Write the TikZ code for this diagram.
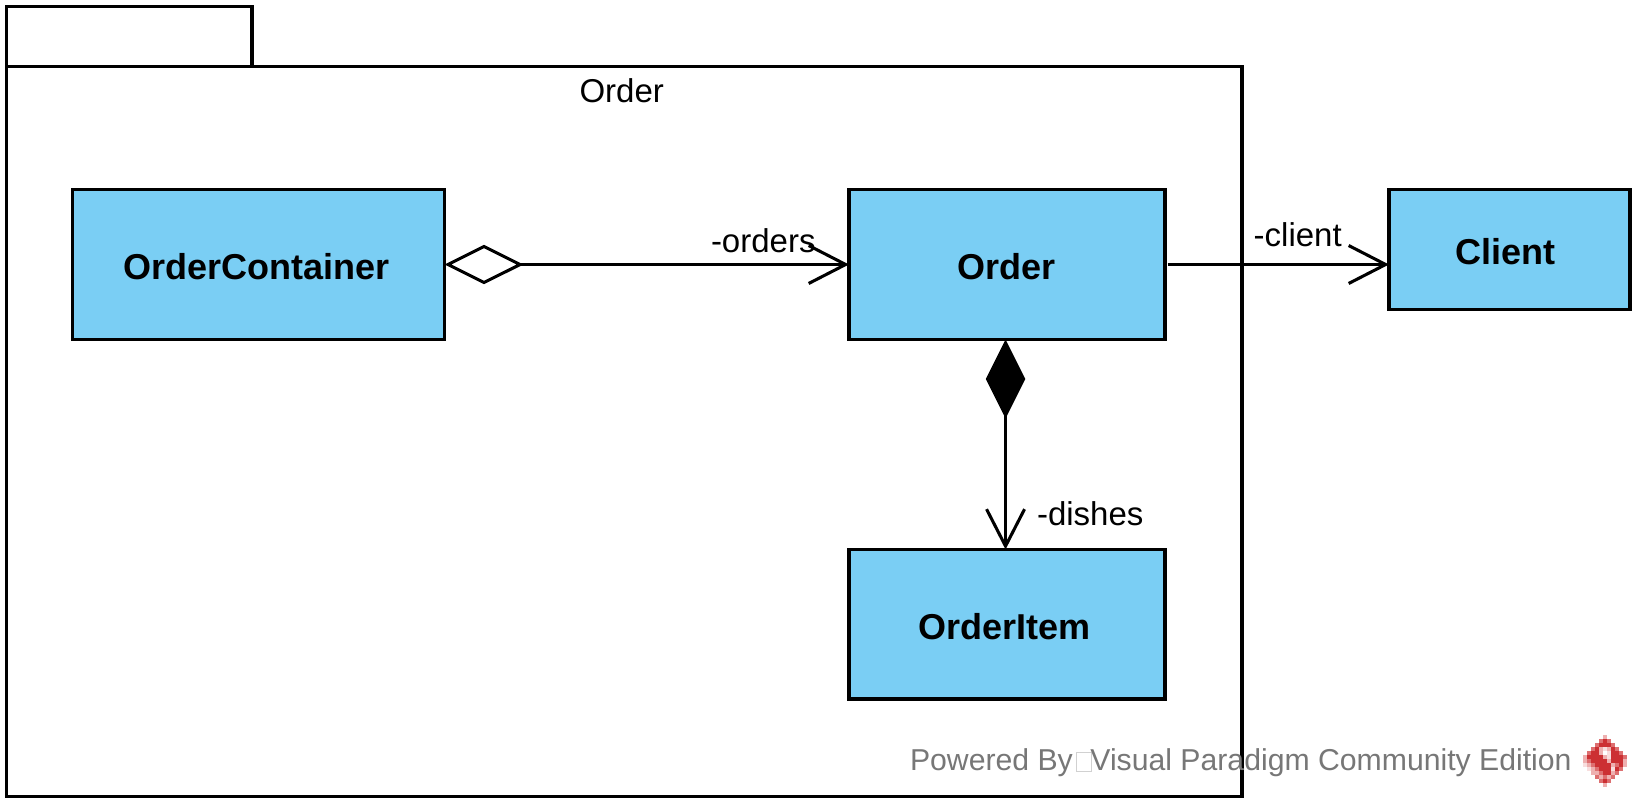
\documentclass[tikz,border=0pt]{standalone}
\usepackage{fontspec}
\setmainfont{Liberation Sans}
\usetikzlibrary{arrows.meta}
\definecolor{classblue}{HTML}{7ACEF4}
\definecolor{markgray}{HTML}{777777}
\definecolor{lr}{HTML}{CC3033}
\definecolor{lm}{HTML}{DD6F70}
\definecolor{lp}{HTML}{EEB0B0}
\definecolor{ll}{HTML}{F8DEDE}
\newcommand{\tofubox}{{\setlength{\fboxsep}{0pt}\setlength{\fboxrule}{.6pt}\hspace{2.5pt}\textcolor{black!18}{\fbox{\rule{0pt}{13.5pt}\hspace{10.5pt}}}\hspace{-1pt}}}
\tikzset{
  x=.75pt,y=-.75pt,
  outline/.style={draw=black,line width=2.3pt,outer sep=0pt,inner sep=0pt,anchor=north west},
  classbox/.style={outline,fill=classblue,align=center,text height=22.5pt,text depth=0pt,
    font=\fontsize{27}{30}\selectfont\bfseries},
  pkgbox/.style={outline,fill=white},
  conn/.style={line width=2.3pt,draw=black},
  lbl/.style={anchor=base west,inner sep=0pt,outer sep=0pt,font=\fontsize{24.75}{30}\selectfont},
  wmark/.style={anchor=base west,inner sep=0pt,outer sep=0pt,text=markgray,font=\fontsize{22.65}{26}\selectfont},
  barbhead/.tip={Straight Barb[length=27.75pt,width=28.5pt,line width=2.3pt]},
}
\begin{document}
\begin{tikzpicture}
\useasboundingbox (0,0) rectangle (1641,810);
\fill[white] (0,0) rectangle (1641,810);
% package
\node[pkgbox,minimum width=245.5*.75pt,minimum height=60*.75pt] (tab) at (6.5,6.5) {};
\node[pkgbox,minimum width=1235.5*.75pt,minimum height=730*.75pt] (pkg) at (6.5,66.5) {};
\node[lbl] (pkgname) at (579.5,102.5) {Order};
% classes
\node[classbox,minimum width=372*.75pt,minimum height=150*.75pt] (oc) at (72.5,189.5) {\hspace*{-3.2pt}OrderContainer};
\node[classbox,minimum width=316*.75pt,minimum height=150*.75pt] (order) at (849,189.5) {\hspace*{-.4pt}Order};
\node[classbox,minimum width=316*.75pt,minimum height=149.5*.75pt] (item) at (849,549.5) {\hspace*{-3.6pt}OrderItem};
\node[classbox,minimum width=241*.75pt,minimum height=120*.75pt] (client) at (1389,189.5) {\hspace*{-5.5pt}Client};
% connectors
\draw[conn,{Diamond[open,fill=white,length=59.25pt,width=29.6pt,line width=2.3pt]}-barbhead]
  (oc.east) -- (order.west);
\draw[conn,-barbhead,shorten <=2pt] (order.east) -- (client.west |- order.east);
\draw[conn,{Diamond[fill=black,length=59.25pt,width=29.6pt,line width=2.3pt]}-barbhead]
  ([xshift=-1.1pt]order.south) -- ([xshift=-1.1pt]item.north);
% labels
\node[lbl] (lorders) at (711,252.5) {-orders};
\node[lbl] (lclient) at (1253.7,246.5) {-client};
\node[lbl] (ldishes) at (1037,525) {-dishes};
% watermark
\node[wmark] (wm) at (910,770.5) {Powered By\tofubox{}Visual Paradigm Community Edition};
% logo
\begin{scope}[shift={(1583,735)}]
\foreach \col/\row/\c in {
 5/0/lp,
 4/1/lm,5/1/lr,6/1/lm,
 3/2/lm,4/2/lr,5/2/lr,6/2/lr,7/2/lm,
 2/3/lm,3/3/lr,4/3/lp,5/3/ll,6/3/lp,7/3/lr,8/3/lm,
 1/4/lm,2/4/lr,3/4/lr,4/4/lp,5/4/white,6/4/ll,7/4/lr,8/4/lr,9/4/lm,
 0/5/lp,1/5/lr,2/5/lr,3/5/lr,4/5/lr,5/5/lp,6/5/ll,7/5/lr,8/5/lr,9/5/lr,10/5/lm,
 0/6/lp,1/6/lm,2/6/lr,3/6/lr,4/6/lr,5/6/lr,6/6/lp,7/6/lr,8/6/lr,9/6/lr,10/6/lp,
 0/7/ll,1/7/lp,2/7/lm,3/7/lr,4/7/lr,5/7/lr,6/7/lr,7/7/lp,8/7/lm,9/7/lr,10/7/lp,
 1/8/ll,2/8/lp,3/8/lm,4/8/lr,5/8/lr,6/8/lr,7/8/ll,8/8/lr,9/8/lm,
 2/9/lp,3/9/lp,4/9/lm,5/9/lr,6/9/lr,7/9/lp,8/9/lm,
 3/10/lm,4/10/lp,5/10/lm,6/10/lp,7/10/lm,
 4/11/lm,5/11/lr,6/11/lm,
 5/12/lp}
  \fill[\c] (4*\col,4*\row) rectangle (4*\col+4.1,4*\row+4.1);
\end{scope}
\end{tikzpicture}
\end{document}
